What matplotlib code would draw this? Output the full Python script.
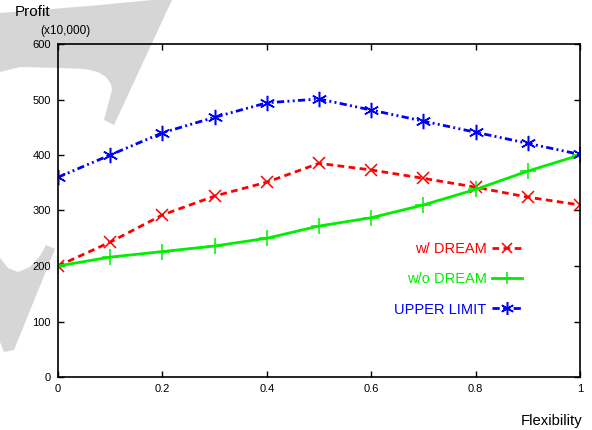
import matplotlib
matplotlib.use("Agg")
import matplotlib.pyplot as plt
from matplotlib.patches import Polygon

plt.rcParams['font.family'] = ['Liberation Sans', 'DejaVu Sans']

# profit vs. flexibility, in units of 10,000
flexibility = [0.0, 0.1, 0.2, 0.3, 0.4, 0.5, 0.6, 0.7, 0.8, 0.9, 1.0]
with_dream = [200, 243, 292, 326, 351, 385, 373, 358, 342, 324, 310]
without_dream = [200, 216, 226, 236, 250, 272, 287, 310, 338, 371, 400]
upper_limit = [360, 400, 440, 468, 494, 501, 481, 461, 441, 421, 401]

x_ticks = [0, 0.2, 0.4, 0.6, 0.8, 1]
x_tick_labels = ['0', '0.2', '0.4', '0.6', '0.8', '1']
y_ticks = [0, 100, 200, 300, 400, 500, 600]

W, H = 592, 430


def px(points):
    # pixel coords (y down) -> figure fraction
    return [(x / W, 1 - y / H) for x, y in points]


fig = plt.figure(figsize=(W / 100, H / 100), dpi=100)

# light gray background shapes
mark_top = [(0, 13), (40, 10), (100, 5), (152, 0), (172, 0), (114, 125),
            (104, 120), (112, 90), (111, 84), (106, 77), (98, 72), (85, 69),
            (60, 68), (20, 67), (0, 72)]
mark_low = [(0, 258), (8, 268), (18, 272), (30, 267), (40, 256), (46, 245),
            (55, 249), (14, 350), (4, 352), (0, 342)]
for shape in (mark_top, mark_low):
    fig.patches.append(Polygon(px(shape), closed=True, transform=fig.transFigure,
                               facecolor='#d6d6d6', edgecolor='none', zorder=-1))

ax = fig.add_axes([58 / W, (H - 377) / H, 522 / W, 333 / H])
ax.patch.set_visible(False)

ax.plot(flexibility, with_dream, color='#ff0000', lw=2, dashes=(2.4, 1.6),
        marker='x', ms=9, mew=1.1, label='w/ DREAM')
ax.plot(flexibility, without_dream, color='#00ee00', lw=2,
        marker='+', ms=11, mew=1.1, label='w/o DREAM')
ax.plot(flexibility, upper_limit, color='#0000ff', lw=2,
        dashes=(2.6, 1.2, 0.7, 1.2, 0.7, 1.2),
        marker=(6, 2, 0), ms=11, mew=1.1, label='UPPER LIMIT')

ax.set_xlim(0, 1)
ax.set_ylim(0, 600)
ax.set_xticks(x_ticks)
ax.set_xticklabels(x_tick_labels)
ax.set_yticks(y_ticks)
ax.tick_params(direction='in', top=True, right=True, length=4, width=1,
               labelsize=8, pad=5, colors='black')
for side in ax.spines.values():
    side.set_linewidth(1.2)

ax.legend(loc='upper right', bbox_to_anchor=(0.902, 0.426),
          frameon=False, markerfirst=False, handlelength=2.0,
          handletextpad=0.4, labelspacing=1.1, fontsize=10.5,
          markerscale=0.85, labelcolor='linecolor', borderpad=0)

fig.text(15 / W, 1 - 12 / H, 'Profit', fontsize=11, va='center', ha='left')
fig.text(40 / W, 1 - 31 / H, '(x10,000)', fontsize=8.5, va='center', ha='left')
fig.text(583 / W, 1 - 421 / H, 'Flexibility', fontsize=10.7, va='center',
         ha='right')

fig.savefig('out.png', dpi=100)
